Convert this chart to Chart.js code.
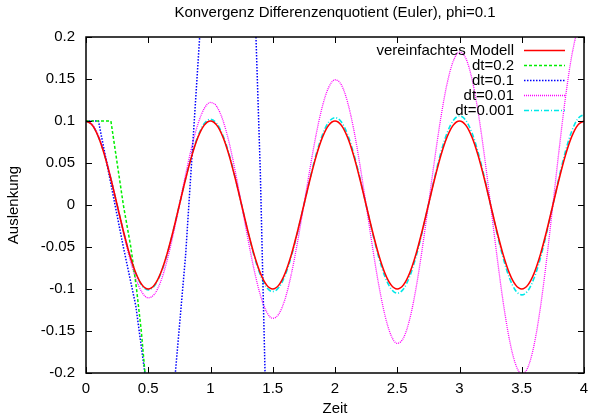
<!DOCTYPE html>
<html>
<head>
<meta charset="utf-8">
<script src="https://cdn.jsdelivr.net/npm/chart.js@4/dist/chart.umd.min.js"></script>
<style>
  html, body { margin: 0; padding: 0; background: #fff; }
  canvas { display: block; }
</style>
</head>
<body>
<canvas id="c" width="591" height="418"></canvas>
<script>
// ---- data ----
const chartTitle = 'Konvergenz Differenzenquotient (Euler), phi=0.1';
const xTitle = 'Zeit';
const yTitle = 'Auslenkung';

const xTicks = [0, 0.5, 1, 1.5, 2, 2.5, 3, 3.5, 4];
const xTickLabels = ['0', '0.5', '1', '1.5', '2', '2.5', '3', '3.5', '4'];
const yTicks = [-0.2, -0.15, -0.1, -0.05, 0, 0.05, 0.1, 0.15, 0.2];
const yTickLabels = ['-0.2', '-0.15', '-0.1', '-0.05', '0', '0.05', '0.1', '0.15', '0.2'];

const seriesNames = ['vereinfachtes Modell', 'dt=0.2', 'dt=0.1', 'dt=0.01', 'dt=0.001'];

const timeFine = [0,0.05,0.1,0.15,0.2,0.25,0.3,0.35,0.4,0.45,0.5,0.55,0.6,0.65,0.7,0.75,0.8,0.85,0.9,0.95,
  1,1.05,1.1,1.15,1.2,1.25,1.3,1.35,1.4,1.45,1.5,1.55,1.6,1.65,1.7,1.75,1.8,1.85,1.9,1.95,
  2,2.05,2.1,2.15,2.2,2.25,2.3,2.35,2.4,2.45,2.5,2.55,2.6,2.65,2.7,2.75,2.8,2.85,2.9,2.95,
  3,3.05,3.1,3.15,3.2,3.25,3.3,3.35,3.4,3.45,3.5,3.55,3.6,3.65,3.7,3.75,3.8,3.85,3.9,3.95,4];

const modellValues = [
  0.1,0.0951,0.0809,0.0588,0.0309,0,-0.0309,-0.0588,-0.0809,-0.0951,-0.1,-0.0951,-0.0809,-0.0588,-0.0309,0,0.0309,0.0588,0.0809,0.0951,
  0.1,0.0951,0.0809,0.0588,0.0309,0,-0.0309,-0.0588,-0.0809,-0.0951,-0.1,-0.0951,-0.0809,-0.0588,-0.0309,0,0.0309,0.0588,0.0809,0.0951,
  0.1,0.0951,0.0809,0.0588,0.0309,0,-0.0309,-0.0588,-0.0809,-0.0951,-0.1,-0.0951,-0.0809,-0.0588,-0.0309,0,0.0309,0.0588,0.0809,0.0951,
  0.1,0.0951,0.0809,0.0588,0.0309,0,-0.0309,-0.0588,-0.0809,-0.0951,-0.1,-0.0951,-0.0809,-0.0588,-0.0309,0,0.0309,0.0588,0.0809,0.0951,
  0.1];

const dt001Values = [
  0.1,0.0961,0.0825,0.0606,0.0322,0,-0.0328,-0.0630,-0.0876,-0.1040,-0.1105,-0.1061,-0.0912,-0.0669,-0.0355,0,0.0362,0.0696,0.0968,0.1149,
  0.1221,0.1173,0.1007,0.0740,0.0393,0,-0.0400,-0.0769,-0.1070,-0.1270,-0.1349,-0.1295,-0.1114,-0.0817,-0.0433,0,0.0442,0.0850,0.1182,0.1403,
  0.1491,0.1433,0.1230,0.0903,0.0480,0,-0.0489,-0.0939,-0.1306,-0.1551,-0.1647,-0.1582,-0.1360,-0.0997,-0.0529,0,0.0540,0.1038,0.1443,0.1713,
  0.1820,0.1749,0.1502,0.1103,0.0586,0,-0.0597,-0.1147,-0.1595,-0.1893,-0.2012,-0.1931,-0.1660,-0.1218,-0.0646,0,0.0659,0.1267,0.1762,0.2092,
  0.2223];

const dt0001Values = [
  0.1,0.0952,0.0811,0.0590,0.0310,0,-0.0311,-0.0592,-0.0815,-0.0960,-0.1010,-0.0961,-0.0819,-0.0596,-0.0313,0,0.0314,0.0598,0.0824,0.0969,
  0.1020,0.0971,0.0827,0.0602,0.0316,0,-0.0317,-0.0604,-0.0832,-0.0979,-0.1030,-0.0980,-0.0835,-0.0607,-0.0320,0,0.0320,0.0610,0.0840,0.0988,
  0.1040,0.0990,0.0843,0.0613,0.0323,0,-0.0323,-0.0616,-0.0848,-0.0998,-0.1050,-0.0999,-0.0851,-0.0619,-0.0326,0,0.0326,0.0622,0.0856,0.1007,
  0.1060,0.1009,0.0859,0.0625,0.0329,0,-0.0329,-0.0627,-0.0864,-0.1017,-0.1070,-0.1019,-0.0867,-0.0631,-0.0332,0,0.0332,0.0633,0.0872,0.1026,
  0.1080];

const dt02Time   = [0, 0.2, 0.3, 0.36, 0.406, 0.444, 0.474, 0.5];
const dt02Values = [0.1, 0.1, 0, -0.05, -0.1, -0.15, -0.2, -0.25];

const dt01Time   = [0, 0.1, 0.2, 0.3, 0.4, 0.5, 0.6, 0.7, 0.8, 0.9, 1.0, 1.1, 1.2, 1.3, 1.4, 1.5];
const dt01Values = [0.1, 0.1, 0.025, -0.05, -0.12, -0.23, -0.3, -0.23, -0.06, 0.17, 0.4, 0.6, 0.65, 0.5, 0.04, -0.59];

// ---- build chart ----
const FONT = '"Liberation Sans", Arial, Helvetica, sans-serif';
Chart.defaults.font.family = FONT;
Chart.defaults.font.size = 15;
Chart.defaults.color = '#000';

const pts = (xs, ys) => xs.map((t, i) => ({ x: t, y: ys[i] }));

const datasets = [
  { label: seriesNames[0], data: pts(timeFine, modellValues), borderColor: '#ff0000', borderWidth: 1.6, borderDash: [], cubicInterpolationMode: 'monotone' },
  { label: seriesNames[1], data: pts(dt02Time, dt02Values), borderColor: '#00ee00', borderWidth: 1.5, borderDash: [3, 2] },
  { label: seriesNames[2], data: pts(dt01Time, dt01Values), borderColor: '#0000ff', borderWidth: 1.5, borderDash: [1.5, 1.5] },
  { label: seriesNames[3], data: pts(timeFine, dt001Values), borderColor: '#ff00ff', borderWidth: 1.3, borderDash: [1, 1], cubicInterpolationMode: 'monotone' },
  { label: seriesNames[4], data: pts(timeFine, dt0001Values), borderColor: '#00e8e8', borderWidth: 1.6, borderDash: [5, 2, 1, 2], cubicInterpolationMode: 'monotone' }
].map(d => Object.assign({ pointRadius: 0, fill: false, tension: 0, backgroundColor: d.borderColor }, d));

const framePlugin = {
  id: 'frameAndLegend',
  afterDatasetsDraw(chart) {
    const { ctx, chartArea: a, scales: { x, y } } = chart;
    ctx.save();
    // inward tick marks on all four sides
    ctx.strokeStyle = '#000';
    ctx.lineWidth = 1;
    ctx.setLineDash([]);
    ctx.beginPath();
    const tl = 6;
    xTicks.forEach(v => {
      const px = Math.round(x.getPixelForValue(v)) + 0.5;
      ctx.moveTo(px, a.bottom); ctx.lineTo(px, a.bottom - tl);
      ctx.moveTo(px, a.top); ctx.lineTo(px, a.top + tl);
    });
    yTicks.forEach(v => {
      const py = Math.round(y.getPixelForValue(v)) + 0.5;
      ctx.moveTo(a.left, py); ctx.lineTo(a.left + tl, py);
      ctx.moveTo(a.right, py); ctx.lineTo(a.right - tl, py);
    });
    ctx.stroke();
    // frame
    ctx.lineWidth = 1.5;
    ctx.strokeRect(a.left, a.top, a.right - a.left, a.bottom - a.top);

    // key (legend) in the top right of the plot, text right-aligned, sample to the right
    ctx.font = '15px ' + FONT;
    ctx.textAlign = 'right';
    ctx.textBaseline = 'middle';
    chart.data.datasets.forEach((ds, i) => {
      const rowY = a.top + 13.5 + i * 15;
      ctx.fillStyle = '#000';
      ctx.fillText(ds.label, a.right - 70, rowY + 0.5);
      ctx.beginPath();
      ctx.strokeStyle = ds.borderColor;
      ctx.lineWidth = ds.borderWidth;
      ctx.setLineDash(ds.borderDash || []);
      ctx.moveTo(a.right - 60, rowY);
      ctx.lineTo(a.right - 19, rowY);
      ctx.stroke();
    });
    ctx.restore();
  }
};

new Chart(document.getElementById('c'), {
  type: 'line',
  data: { datasets },
  plugins: [framePlugin],
  options: {
    responsive: false,
    animation: false,
    layout: { padding: { left: 0, right: 7, top: 0, bottom: 0 } },
    plugins: {
      legend: { display: false },
      tooltip: { enabled: false },
      title: {
        display: true,
        text: chartTitle,
        fullSize: false,
        font: { size: 15, weight: 'normal', family: FONT },
        color: '#000',
        padding: { top: 4, bottom: 15 }
      }
    },
    scales: {
      x: {
        type: 'linear',
        min: 0, max: 4,
        grid: { display: false, drawTicks: false },
        border: { display: false },
        afterBuildTicks: s => { s.ticks = xTicks.map(v => ({ value: v })); },
        afterFit: s => { s.height = 45; s.paddingRight = 0; s.paddingLeft = 0; },
        ticks: {
          autoSkip: false, maxRotation: 0, padding: 7,
          callback: (v, i) => xTickLabels[i]
        },
        title: { display: true, text: xTitle, font: { size: 15 }, padding: { top: 0, bottom: 0 } }
      },
      y: {
        type: 'linear',
        min: -0.2, max: 0.2,
        grid: { display: false, drawTicks: false },
        border: { display: false },
        afterBuildTicks: s => { s.ticks = yTicks.map(v => ({ value: v })); },
        afterFit: s => { s.width = 86; },
        ticks: {
          autoSkip: false, padding: 11,
          callback: (v, i) => yTickLabels[i]
        },
        title: { display: true, text: yTitle, font: { size: 15 }, padding: { top: 5, bottom: 0 } }
      }
    }
  }
});
</script>
</body>
</html>
